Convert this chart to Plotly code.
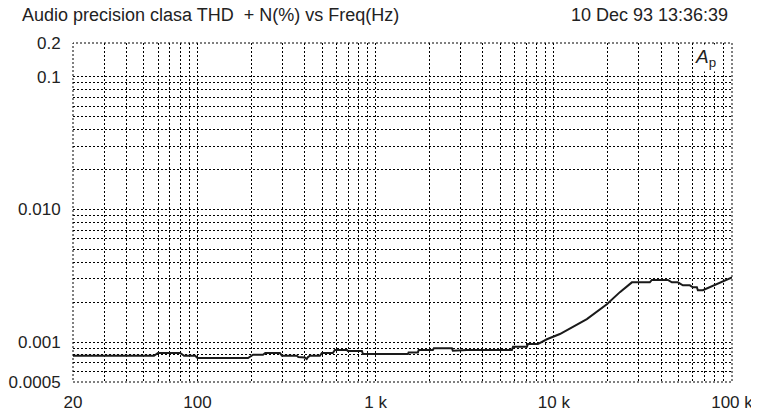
import math
import plotly.graph_objects as go

# ---- data ----
freq_hz = [20, 57, 60, 80, 84, 97, 100, 192, 205, 233, 240, 290, 298, 361, 368, 400,
           410, 417, 428, 486, 499, 575, 590, 690, 698, 837, 848, 1517, 1530, 1726,
           1743, 2094, 2120, 2679, 2712, 3251, 5815, 5900, 7058, 7150, 8137, 9140,
           10810, 12790, 15320, 19840, 23480, 27420, 34580, 35500, 43660, 45960,
           49670, 53000, 58000, 60290, 63520, 64330, 68600, 100000]
thd_pct = [0.000789, 0.000789, 0.000827, 0.000827, 0.000789, 0.000789, 0.000758,
           0.000758, 0.000803, 0.000803, 0.000827, 0.000827, 0.000789, 0.000789,
           0.000771, 0.000765, 0.000745, 0.000771, 0.000789, 0.000789, 0.000827,
           0.000827, 0.000871, 0.000871, 0.000856, 0.000856, 0.000812, 0.000812,
           0.000836, 0.000836, 0.000871, 0.000871, 0.000897, 0.000897, 0.000860,
           0.000871, 0.000871, 0.000922, 0.000922, 0.000966, 0.000966, 0.00105,
           0.00115, 0.00130, 0.00149, 0.00193, 0.00238, 0.00282, 0.00282, 0.00294,
           0.00294, 0.00282, 0.00282, 0.00268, 0.00268, 0.00259, 0.00259, 0.00246,
           0.00246, 0.00308]

x_label_vals = [20, 100, 1000, 10000, 100000]
x_label_text = ["20", "100", "1 k", "10 k", "100 k"]
y_label_vals = [0.18, 0.1, 0.01, 0.001, 0.0005]
y_label_text = ["0.2", "0.1", "0.010", "0.001", "0.0005"]

title_text = "Audio precision clasa THD  + N(%) vs Freq(Hz)"
date_text = "10 Dec 93 13:36:39"

# grid positions (1..9 multiples per decade)
x_grid = [m * 10 ** e for e in range(1, 5) for m in range(1, 10) if m * 10 ** e >= 20] + [100000]
y_grid = [round(m * 10 ** e, 6) for e in range(-4, -1) for m in range(1, 10) if m * 10 ** e >= 0.0005 - 1e-12] + [0.1, 0.18]

def labels(grid, vals, texts):
    out = []
    for g in grid:
        t = ""
        for v, s in zip(vals, texts):
            if abs(g - v) / v < 1e-6:
                t = s
        out.append(t)
    return out

FONT = "Liberation Sans, Arial, sans-serif"
DOT = "2px,2px"
fig = go.Figure()
fig.add_trace(go.Scatter(x=freq_hz, y=thd_pct, mode="lines",
                         line=dict(color="#1a1a1a", width=2), showlegend=False))

grid_style = dict(showgrid=True, gridcolor="#000000", gridwidth=1, griddash=DOT,
                  zeroline=False, showline=False, ticks="outside", automargin=False,
                  tickcolor="rgba(0,0,0,0)", tickfont=dict(family=FONT, size=17, color="#222"))

fig.update_xaxes(type="log", range=[math.log10(20), 5], tickmode="array",
                 tickvals=x_grid, ticktext=labels(x_grid, x_label_vals, x_label_text),
                 ticklen=5, **grid_style)
fig.update_yaxes(type="log", range=[math.log10(0.0005), math.log10(0.18)], tickmode="array",
                 tickvals=y_grid, ticktext=labels(y_grid, y_label_vals, y_label_text),
                 ticklen=8, **grid_style)

# dotted plot frame
fig.add_shape(type="rect", xref="paper", yref="paper", x0=0, y0=0, x1=1, y1=1,
              line=dict(color="#000000", width=1, dash=DOT), layer="above")

fig.add_annotation(text=title_text, xref="paper", yref="paper", x=-0.0804, y=1.083,
                   xanchor="left", yanchor="middle", showarrow=False,
                   font=dict(family=FONT, size=18, color="#222"))
fig.add_annotation(text=date_text, xref="paper", yref="paper", x=0.997, y=1.083,
                   xanchor="right", yanchor="middle", showarrow=False,
                   font=dict(family=FONT, size=18, color="#222"))
fig.add_annotation(text="<i>A</i><sub>p</sub>", xref="paper", yref="paper", x=0.978, y=0.997,
                   xanchor="right", yanchor="top", showarrow=False, bgcolor="white",
                   font=dict(family=FONT, size=19, color="#222"), borderpad=1)

# page body has an 8px margin; shrink the figure so the plot lands where the reference has it
fig.update_layout(width=751, height=404, margin=dict(l=65, r=27, t=35, b=30),
                  paper_bgcolor="white", plot_bgcolor="white")
fig.write_html("out.html")
